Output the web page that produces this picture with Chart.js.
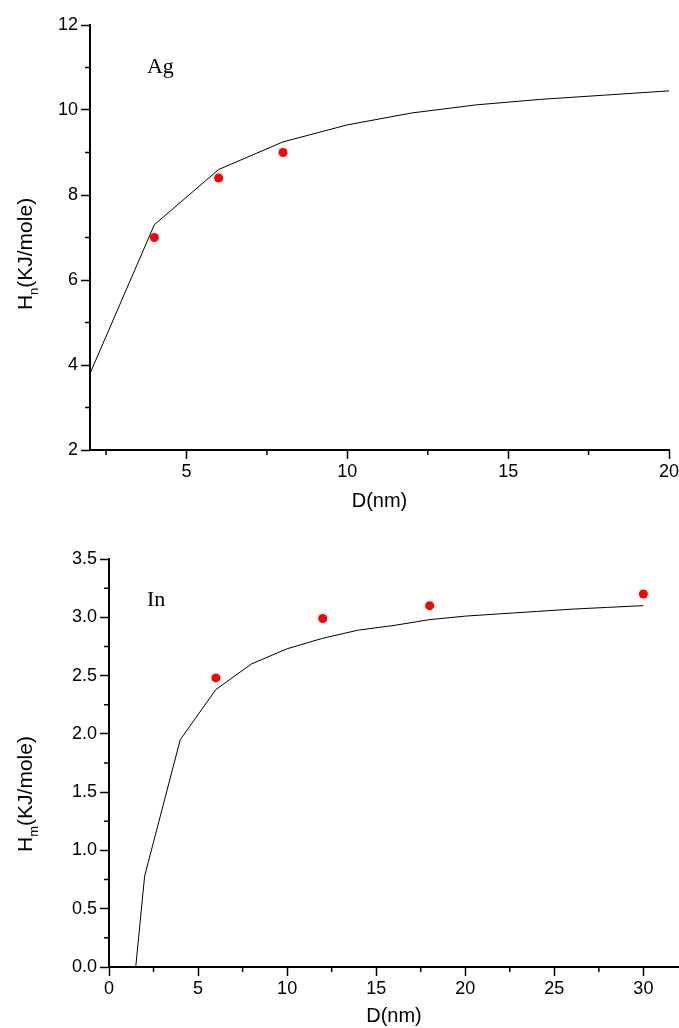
<!DOCTYPE html>
<html>
<head>
<meta charset="utf-8">
<script src="https://cdn.jsdelivr.net/npm/chart.js@4.4.0/dist/chart.umd.min.js"></script>
<style>
  html, body { margin: 0; padding: 0; background: #fff; }
  #top { position: absolute; left: 0; top: 0; width: 679px; height: 520px; }
  #bottom { position: absolute; left: 0; top: 520px; width: 679px; height: 508px; }
</style>
</head>
<body>
<div id="top"><canvas id="agChart" width="679" height="520"></canvas></div>
<div id="bottom"><canvas id="inChart" width="679" height="508"></canvas></div>
<script>
// Ag: model curve + measured points
const agLineD = [2, 4, 6, 8, 10, 12, 14, 16, 18, 20]
const agLineH = [3.8, 7.3, 8.6, 9.25, 9.65, 9.93, 10.12, 10.25, 10.35, 10.45]
const agExpD = [4, 6, 8]
const agExpH = [7.0, 8.4, 9.0]
const agXTicks = [5, 10, 15, 20]
const agXMinor = [2.5, 7.5, 12.5, 17.5]
const agYTicks = [2, 4, 6, 8, 10, 12]
const agYMinor = [3, 5, 7, 9, 11]

// In: model curve + measured points
const inLineD = [1.5, 2, 4, 6, 8, 10, 12, 14, 16, 18, 20, 22, 24, 26, 28, 30]
const inLineH = [0, 0.78, 1.95, 2.38, 2.6, 2.73, 2.82, 2.89, 2.93, 2.98, 3.01, 3.03, 3.05, 3.07, 3.085, 3.1]
const inExpD = [6, 12, 18, 30]
const inExpH = [2.48, 2.99, 3.1, 3.2]
const inXTicks = [0, 5, 10, 15, 20, 25, 30]
const inXMinor = [2.5, 7.5, 12.5, 17.5, 22.5, 27.5]
const inYTicks = [0, 0.5, 1, 1.5, 2, 2.5, 3, 3.5]
const inYMinor = [0.25, 0.75, 1.25, 1.75, 2.25, 2.75, 3.25]

const sans = "'Liberation Sans', Arial, sans-serif"
const serif = "'Liberation Serif', 'Times New Roman', serif"

const toPoints = (xs, ys) => xs.map((x, i) => ({x: x, y: ys[i]}))

// minor ticks, rotated y title with subscript, element label
const extras = {
    id: 'extras',
    afterDraw(chart, args, opts) {
        const ctx = chart.ctx
        const area = chart.chartArea
        const xs = chart.scales.x
        const ys = chart.scales.y
        ctx.save()
        ctx.strokeStyle = '#000'
        ctx.lineWidth = 1.5
        ctx.beginPath()
        opts.xMinor.forEach(v => {
            const px = xs.getPixelForValue(v)
            ctx.moveTo(px, area.bottom)
            ctx.lineTo(px, area.bottom + 5)
        })
        opts.yMinor.forEach(v => {
            const py = ys.getPixelForValue(v)
            ctx.moveTo(area.left - 5, py)
            ctx.lineTo(area.left, py)
        })
        ctx.stroke()

        // y title
        ctx.fillStyle = '#000'
        ctx.textBaseline = 'alphabetic'
        ctx.textAlign = 'left'
        const big = '21px ' + sans
        const small = '13px ' + sans
        ctx.font = big
        const w1 = ctx.measureText(opts.yTitle[0]).width
        const w3 = ctx.measureText(opts.yTitle[2]).width
        ctx.font = small
        const w2 = ctx.measureText(opts.yTitle[1]).width
        const total = w1 + w2 + w3
        ctx.save()
        ctx.translate(opts.yTitleX, opts.yTitleY)
        ctx.rotate(-Math.PI / 2)
        let s = -total / 2
        ctx.font = big
        ctx.fillText(opts.yTitle[0], s, 0)
        ctx.font = small
        ctx.fillText(opts.yTitle[1], s + w1, 6)
        ctx.font = big
        ctx.fillText(opts.yTitle[2], s + w1 + w2, 0)
        ctx.restore()

        // element name
        ctx.font = '22px ' + serif
        ctx.fillText(opts.label.text, xs.getPixelForValue(opts.label.x), ys.getPixelForValue(opts.label.y))
        ctx.restore()
    }
}

const makeChart = (id, cfg) => {
    new Chart(document.getElementById(id), {
        type: 'scatter',
        data: {
            datasets: [{
                data: cfg.line,
                showLine: true,
                borderColor: '#000',
                borderWidth: 1,
                pointRadius: 0,
                tension: 0
            }, {
                data: cfg.points,
                showLine: false,
                pointRadius: 4.5,
                pointBackgroundColor: '#ff0000',
                pointBorderWidth: 0
            }]
        },
        options: {
            responsive: false,
            animation: false,
            layout: {autoPadding: false, padding: cfg.padding},
            plugins: {
                legend: {display: false},
                tooltip: {enabled: false},
                extras: cfg.extras
            },
            scales: {
                x: {
                    type: 'linear',
                    min: cfg.xMin,
                    max: cfg.xMax,
                    afterBuildTicks: s => { s.ticks = cfg.xTicks.map(v => ({value: v})) },
                    afterFit: s => {
                        s.height = cfg.xHeight
                        s.paddingLeft = 0
                        s.paddingRight = 0
                    },
                    grid: {drawOnChartArea: false, drawTicks: true, tickLength: 9, tickWidth: 1.5, tickColor: '#000'},
                    border: {display: true, color: '#000', width: 2},
                    ticks: {color: '#000', padding: 2, font: {family: sans, size: 18}, maxRotation: 0},
                    title: {display: true, text: 'D(nm)', color: '#000', font: {family: sans, size: 20}, padding: {top: 0, bottom: cfg.titlePad}}
                },
                y: {
                    type: 'linear',
                    min: cfg.yMin,
                    max: cfg.yMax,
                    afterBuildTicks: s => { s.ticks = cfg.yTicks.map(v => ({value: v})) },
                    afterFit: s => {
                        s.width = cfg.yWidth
                        s.paddingTop = 0
                        s.paddingBottom = 0
                    },
                    grid: {drawOnChartArea: false, drawTicks: true, tickLength: 9, tickWidth: 1.5, tickColor: '#000'},
                    border: {display: true, color: '#000', width: 2},
                    ticks: {color: '#000', padding: 3, font: {family: sans, size: 18}, callback: cfg.yFmt}
                }
            }
        },
        plugins: [extras]
    })
}

makeChart('agChart', {
    line: toPoints(agLineD, agLineH),
    points: toPoints(agExpD, agExpH),
    padding: {top: 25, right: 10, left: 0, bottom: 0},
    xMin: 2, xMax: 20, xTicks: agXTicks, xHeight: 70, titlePad: 7,
    yMin: 2, yMax: 12, yTicks: agYTicks, yWidth: 90,
    yFmt: v => String(v),
    extras: {
        xMinor: agXMinor, yMinor: agYMinor,
        yTitle: ['H', 'n', '(KJ/mole)'], yTitleX: 32, yTitleY: 254,
        label: {text: 'Ag', x: 3.77, y: 10.87}
    }
})

makeChart('inChart', {
    line: toPoints(inLineD, inLineH),
    points: toPoints(inExpD, inExpH),
    padding: {top: 39, right: 0, left: 0, bottom: 0},
    xMin: 0, xMax: 32, xTicks: inXTicks, xHeight: 61, titlePad: 0,
    yMin: 0, yMax: 3.5, yTicks: inYTicks, yWidth: 109,
    yFmt: v => v.toFixed(1),
    extras: {
        xMinor: inXMinor, yMinor: inYMinor,
        yTitle: ['H', 'm', '(KJ/mole)'], yTitleX: 32, yTitleY: 274,
        label: {text: 'In', x: 2.13, y: 3.1}
    }
})
</script>
</body>
</html>
